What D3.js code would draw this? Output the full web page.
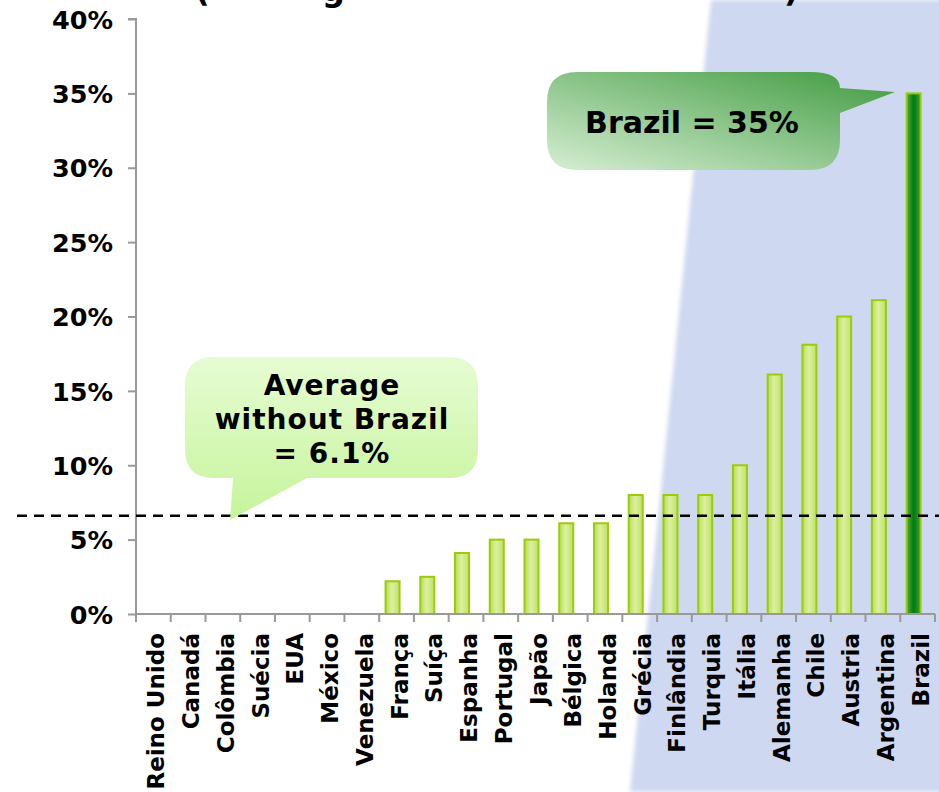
<!DOCTYPE html>
<html>
<head>
<meta charset="utf-8">
<script src="https://cdn.jsdelivr.net/npm/d3@7/dist/d3.min.js"></script>
<style>
  html, body { margin: 0; padding: 0; background: #fff; }
  svg { display: block; font-family: "DejaVu Sans", Verdana, sans-serif; }
</style>
</head>
<body>
<svg id="chart" width="939" height="792"></svg>
<script>
// ---- data ----
const categories = ["Reino Unido","Canadá","Colômbia","Suécia","EUA","México","Venezuela","França","Suíça","Espanha","Portugal","Japão","Bélgica","Holanda","Grécia","Finlândia","Turquia","Itália","Alemanha","Chile","Austria","Argentina","Brazil"];
const values = [0,0,0,0,0,0,0,2.2,2.5,4.1,5,5,6.1,6.1,8,8,8,10,16.1,18.1,20,21.1,35];
const highlight = "Brazil";
const yTicks = [0,5,10,15,20,25,30,35,40];
const averageLine = 6.6;
const averageLabel = ["Average", "without Brazil", "= 6.1%"];
const brazilLabel = "Brazil = 35%";

// ---- layout ----
const svg = d3.select("#chart");
const W = 939, H = 792;
const x0 = 136, x1 = 935, yTop = 19, yBottom = 614;

const defs = svg.append("defs");
const gBar = defs.append("linearGradient").attr("id","barGrad").attr("x1","0").attr("x2","1").attr("y1","0").attr("y2","0");
gBar.append("stop").attr("offset","0%").attr("stop-color","#b6de52");
gBar.append("stop").attr("offset","45%").attr("stop-color","#dcf0a2");
gBar.append("stop").attr("offset","100%").attr("stop-color","#bfe166");
const gBr = defs.append("linearGradient").attr("id","brGrad").attr("x1","0").attr("x2","1").attr("y1","0").attr("y2","0");
gBr.append("stop").attr("offset","0%").attr("stop-color","#4fae3c");
gBr.append("stop").attr("offset","50%").attr("stop-color","#007a12");
gBr.append("stop").attr("offset","100%").attr("stop-color","#3b9d34");
const gC1 = defs.append("linearGradient").attr("id","c1Grad").attr("x1","0").attr("y1","1").attr("x2","1").attr("y2","0");
gC1.append("stop").attr("offset","0%").attr("stop-color","#d6eed3");
gC1.append("stop").attr("offset","100%").attr("stop-color","#3e9a3e");
const gC2 = defs.append("linearGradient").attr("id","c2Grad").attr("x1","0").attr("y1","0").attr("x2","0").attr("y2","1");
gC2.append("stop").attr("offset","0%").attr("stop-color","#e6fcd2");
gC2.append("stop").attr("offset","100%").attr("stop-color","#c6f49c");
const blur = defs.append("filter").attr("id","soft").attr("x","-5%").attr("width","110%");
blur.append("feGaussianBlur").attr("stdDeviation","2");

// background panel
svg.append("path")
  .attr("d", `M711,0 L${W+10},0 L${W+10},${H} L630,${H} Z`)
  .attr("fill", "#cfd8f1").attr("filter","url(#soft)");

// partially visible title fragments at very top (cut off in the reference too)
const titleFrag = [{t:"(", x:195},{t:"g", x:322},{t:")", x:784}];
svg.selectAll("text.tf").data(titleFrag).join("text")
  .attr("class","tf").attr("x", d=>d.x).attr("y", 1)
  .attr("font-size", 32).attr("font-weight","bold").attr("fill","#000")
  .text(d=>d.t);

const x = d3.scaleBand().domain(categories).range([x0, x1]).paddingInner(0).paddingOuter(0);
const y = d3.scaleLinear().domain([0, 40]).range([yBottom, yTop]);
const bw = 14;

// bars
svg.append("g").selectAll("rect").data(categories.map((c,i)=>({c, v: values[i]})).filter(d=>d.v>0))
  .join("rect")
  .attr("x", d => x(d.c) + x.bandwidth()/2 - 4 - bw/2)
  .attr("y", d => y(d.v))
  .attr("width", bw)
  .attr("height", d => y(0) - y(d.v))
  .attr("fill", d => d.c === highlight ? "url(#brGrad)" : "url(#barGrad)")
  .attr("stroke", "#9bcc0a").attr("stroke-width", 2);

// y axis
const yAxis = d3.axisLeft(y).tickValues(yTicks).tickFormat(d => d + "%").tickSize(8).tickPadding(15);
const ga = svg.append("g").attr("transform", `translate(${x0},0)`).call(yAxis);
ga.select(".domain").attr("stroke", "#999").attr("stroke-width", 2).attr("d", `M-8,${yTop}H0V${yBottom}`);
ga.selectAll(".tick line").attr("stroke", "#999").attr("stroke-width", 2);
ga.selectAll(".tick text").attr("font-size", 25.5).attr("font-weight", "bold").attr("fill", "#000")
  .attr("font-family", "DejaVu Sans, sans-serif").attr("dy", "0.36em");

// x axis
const xa = svg.append("g").attr("transform", `translate(0,${yBottom})`);
xa.append("line").attr("x1", x0).attr("x2", x1).attr("y1", 0).attr("y2", 0).attr("stroke", "#999").attr("stroke-width", 2);
const bounds = categories.map(c => x(c)).concat([x1]);
xa.selectAll("line.tk").data(bounds).join("line").attr("class","tk")
  .attr("x1", d=>d).attr("x2", d=>d).attr("y1", 0).attr("y2", 8).attr("stroke", "#999").attr("stroke-width", 2);
xa.selectAll("text").data(categories).join("text")
  .attr("transform", d => `translate(${x(d) + x.bandwidth()/2 + 11},19) rotate(-90)`)
  .attr("text-anchor", "end")
  .attr("font-size", 23).attr("font-weight", "bold").attr("fill", "#000")
  .text(d => d);

// average dashed line
svg.append("line").attr("x1", 17).attr("x2", W).attr("y1", y(averageLine)).attr("y2", y(averageLine))
  .attr("stroke", "#000").attr("stroke-width", 2.5).attr("stroke-dasharray", "10,7");

// callout: average
svg.append("path")
  .attr("d", "M214,357 H449 Q478,357 478,386 V449 Q478,478 449,478 H307 L230,520 L233,478 H214 Q185,478 185,449 V386 Q185,357 214,357 Z")
  .attr("fill", "url(#c2Grad)");
svg.append("text").attr("x", 332).attr("y", 395).attr("text-anchor","middle")
  .attr("font-size", 28).attr("font-weight","bold").attr("fill","#000").attr("letter-spacing", 1)
  .selectAll("tspan").data(averageLabel).join("tspan")
  .attr("x", 332).attr("dy", (d,i)=> i===0 ? 0 : 34).text(d=>d);

// callout: brazil
svg.append("path")
  .attr("d", "M577,72 H810 Q840,72 840,88 L895,92 L840,113 V140 Q840,170 810,170 H577 Q547,170 547,140 V102 Q547,72 577,72 Z")
  .attr("fill", "url(#c1Grad)");
svg.append("text").attr("x", 692).attr("y", 133).attr("text-anchor","middle")
  .attr("font-size", 30).attr("font-weight","bold").attr("fill","#000").text(brazilLabel);
</script>
</body>
</html>
